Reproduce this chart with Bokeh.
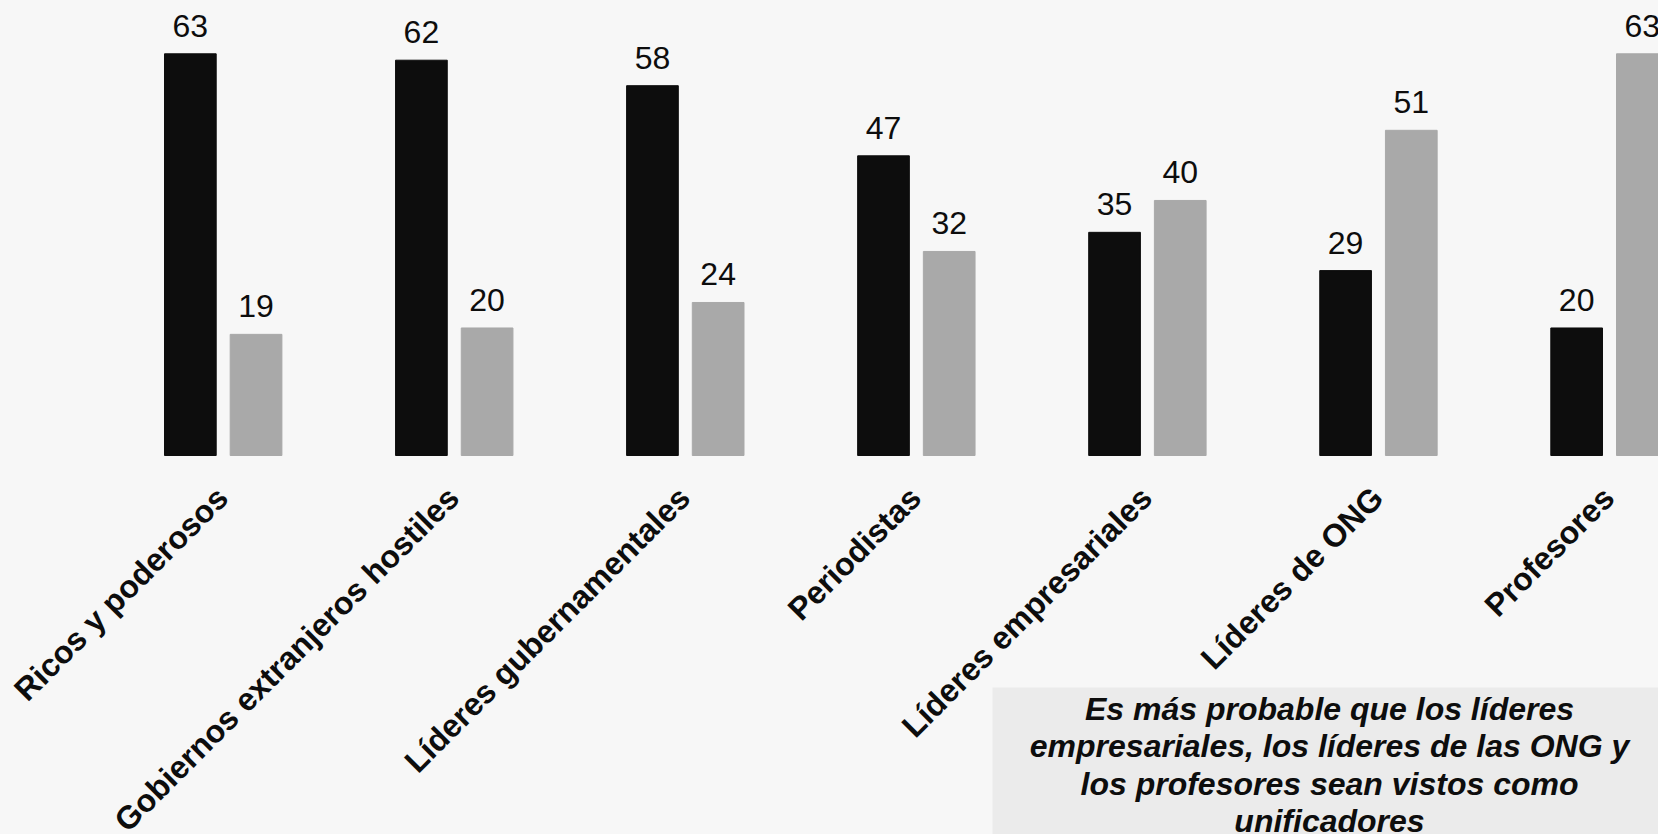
import math
from bokeh.plotting import figure
from bokeh.models import ColumnDataSource, Range1d, BoxAnnotation
from bokeh.transform import dodge
from bokeh.core.properties import value
from bokeh.embed import file_html
from bokeh.resources import INLINE

# ---- data ----
categories = ["Ricos y poderosos", "Gobiernos extranjeros hostiles",
              "Líderes gubernamentales", "Periodistas",
              "Líderes empresariales", "Líderes de ONG", "Profesores"]
divisive = [63, 62, 58, 47, 35, 29, 20]     # black series
unifying = [19, 20, 24, 32, 40, 51, 63]     # grey series
note_lines = ["Es más probable que los líderes",
              "empresariales, los líderes de las ONG y",
              "los profesores sean vistos como",
              "unificadores"]

# ---- layout constants ----
W, H = 1658, 834
BG = "#f7f7f7"
BLACK = "#0d0d0d"
GREY = "#a9a9a9"
FONT = value("Liberation Sans")
FS = "32px"

unit_x = 231.05          # px per category
unit_y = 6.376           # px per value unit
zero_px = 455            # y pixel (from top) of value 0
first_px = 222.7         # x pixel of first category centre

x0 = -first_px / unit_x
x1 = x0 + W / unit_x
y1 = zero_px / unit_y
y0 = -(H - zero_px) / unit_y

def fx(px):
    return x0 + px / unit_x

def fy(py):
    return (zero_px - py) / unit_y

p = figure(width=W, height=H, output_backend="svg", toolbar_location=None,
           x_range=Range1d(x0, x1), y_range=Range1d(y0, y1),
           x_axis_type=None, y_axis_type=None, min_border=0,
           background_fill_color=BG, border_fill_color=BG)
p.outline_line_color = None
p.grid.visible = False

src = ColumnDataSource(dict(
    x=list(range(len(categories))),
    cat=categories,
    a=divisive,
    b=unifying,
    a_txt=[str(v) for v in divisive],
    b_txt=[str(v) for v in unifying],
    zero=[0] * len(categories),
))

bw = 51.7 / unit_x
off = 32.85 / unit_x

# note box (underneath everything)
p.add_layout(BoxAnnotation(left=fx(992), top=fy(687), fill_color="#ebebeb",
                           fill_alpha=1, line_color=None, level="underlay"))

p.vbar(x=dodge("x", -off, range=p.x_range), top="a", bottom=0, width=bw,
       source=src, fill_color=BLACK, line_color=BLACK, line_width=1)
p.vbar(x=dodge("x", off, range=p.x_range), top="b", bottom=0, width=bw,
       source=src, fill_color=GREY, line_color=GREY, line_width=1)

p.text(x=dodge("x", -off, range=p.x_range), y="a", text="a_txt", source=src,
       text_align="center", text_baseline="alphabetic", y_offset=-28,
       text_font=FONT, text_font_size=FS, text_color=BLACK)
p.text(x=dodge("x", off, range=p.x_range), y="b", text="b_txt", source=src,
       text_align="center", text_baseline="alphabetic", y_offset=-28,
       text_font=FONT, text_font_size=FS, text_color=BLACK)

# rotated category labels
p.text(x="x", y="zero", text="cat", source=src, angle=math.pi / 4,
       text_align="right", text_baseline="alphabetic",
       x_offset=-1, y_offset=37,
       text_font=FONT, text_font_size=FS, text_font_style="bold",
       text_color=BLACK)

note_src = ColumnDataSource(dict(
    x=[fx(1329)] * len(note_lines),
    y=[fy(708)] * len(note_lines),
    t=note_lines,
    dy=[i * 37.5 for i in range(len(note_lines))],
))
p.text(x="x", y="y", text="t", y_offset="dy", source=note_src,
       text_align="center", text_baseline="alphabetic",
       text_font=FONT, text_font_size=FS, text_font_style="bold italic",
       text_color=BLACK)

html = file_html(p, INLINE)
html = html.replace("</head>", "<style>html,body{background:%s;}</style></head>" % BG, 1)
open("out.html", "w").write(html)
